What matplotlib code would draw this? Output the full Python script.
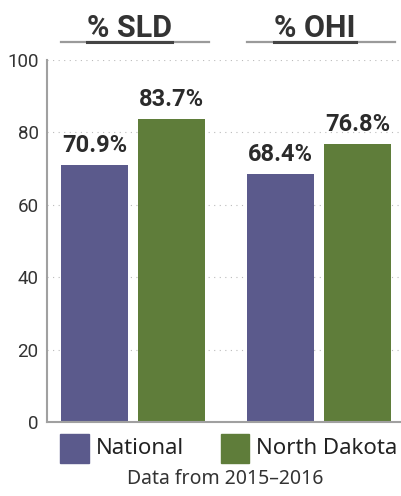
import matplotlib.pyplot as plt
from matplotlib.lines import Line2D
from matplotlib.patches import Rectangle
import numpy as np

groups = ['% SLD', '% OHI']
series = ['National', 'North Dakota']
national = [70.9, 68.4]
north_dakota = [83.7, 76.8]
yticks = [0, 20, 40, 60, 80, 100]
colors = ['#5b5a8c', '#5f7d3a']
footnote = 'Data from 2015\u20132016'

fig = plt.figure(figsize=(4.01, 4.96), dpi=100)
ax = fig.add_axes([0.117, 0.149, 0.883, 0.730])

x = np.arange(len(groups))
w = 0.36
off = 0.208
b1 = ax.bar(x - off, national, w, color=colors[0])
b2 = ax.bar(x + off, north_dakota, w, color=colors[1])

for bars, vals in [(b1, national), (b2, north_dakota)]:
    for b, v in zip(bars, vals):
        ax.annotate('%.1f%%' % v, (b.get_x() + b.get_width() / 2, v),
                    xytext=(0, 6), textcoords='offset points',
                    ha='center', va='bottom', fontsize=17,
                    fontweight='bold', family='Roboto', color='#2b2b2b')

ax.set_xlim(-0.464, 1.44)
ax.set_ylim(0, 100)
ax.set_yticks(yticks)
ax.set_xticks([])
ax.tick_params(axis='y', length=0, pad=6, labelsize=13.5, labelcolor='#333333')
for lab in ax.get_yticklabels():
    lab.set_family('Roboto')
ax.yaxis.grid(True, linestyle=(0, (1, 4)), color='#bbbbbb', linewidth=0.8)
ax.set_axisbelow(True)
for s in ['top', 'right']:
    ax.spines[s].set_visible(False)
ax.spines['left'].set_color('#a0a0a0')
ax.spines['bottom'].set_color('#a0a0a0')
ax.spines['left'].set_linewidth(1.5)
ax.spines['bottom'].set_linewidth(1.5)

# group headings with underline
for gx, name in zip(x, groups):
    cx = ax.transData.transform((gx, 0))[0] / fig.bbox.width
    t = fig.text(cx - 0.01, 0.925, name, ha='center', va='baseline', fontsize=22,
                 fontweight='bold', family='Roboto', color='#333333')
    fig.canvas.draw()
    bb = t.get_window_extent()
    x0, x1 = bb.x0 / fig.bbox.width, bb.x1 / fig.bbox.width
    fig.add_artist(Line2D([cx - 0.18, cx + 0.19], [0.915, 0.915],
                          color='#9a9a9a', linewidth=1.6))
    fig.add_artist(Line2D([x0, x1], [0.915, 0.915], color='#444444', linewidth=2.2))

# legend: colour swatch + label
for lx, c, name in zip([0.150, 0.551], colors, series):
    fig.add_artist(Rectangle((lx, 0.067), 0.071, 0.057, color=c,
                             transform=fig.transFigure))
    fig.text(lx + 0.088, 0.095, name, ha='left', va='center', fontsize=16,
             family='Noto Sans', color='#222222')

fig.text(0.562, 0.035, footnote, ha='center', va='center', fontsize=14,
         family='Noto Sans', color='#333333')

fig.savefig('out.png', dpi=100)
